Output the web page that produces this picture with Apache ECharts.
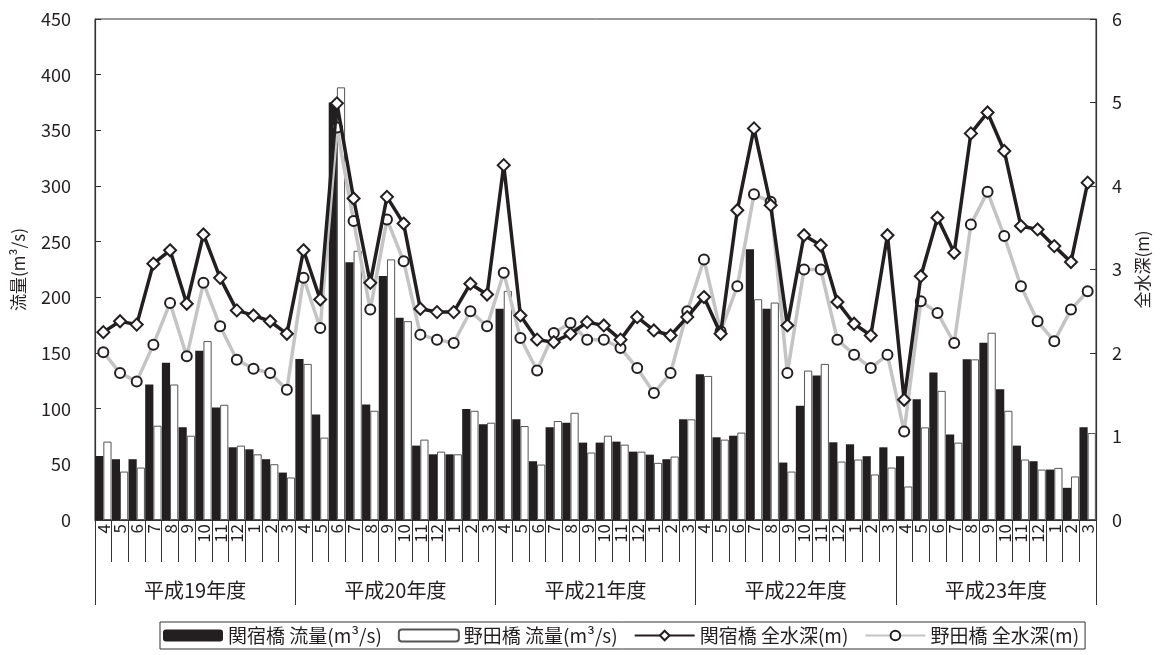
<!DOCTYPE html>
<html>
<head>
<meta charset="utf-8">
<title>関宿橋・野田橋 流量と全水深</title>
<script src="https://cdn.jsdelivr.net/npm/echarts@6/dist/echarts.min.js"></script>
<style>
  html, body { margin: 0; padding: 0; background: #fff; }
  #chart { width: 1160px; height: 655px; }
</style>
</head>
<body>
<div id="chart"></div>
<script>
// Fiscal-year months (April to March) for 平成19〜23年度
const months = ['4','5','6','7','8','9','10','11','12','1','2','3'];
const fiscalYears = ['平成19年度', '平成20年度', '平成21年度', '平成22年度', '平成23年度'];
const categories = fiscalYears.flatMap(fy => months.map(m => fy + '-' + m));

// 関宿橋 流量 (m³/s)
const sekiyadoFlow = [
  57.5, 54.6, 54.6, 121.7, 141.3, 83.2, 152.0, 101.0, 65.3, 63.5, 54.6, 42.6,
  144.6, 94.8, 375.1, 231.4, 103.8, 219.2, 181.6, 66.8, 59.0, 59.0, 99.6, 85.9,
  189.7, 90.4, 52.8, 83.2, 87.4, 69.5, 69.5, 70.4, 61.4, 58.7, 54.6, 90.4,
  130.9, 74.3, 75.7, 243.3, 189.7, 51.6, 102.6, 129.7, 69.8, 68.0, 57.3, 65.3,
  57.3, 108.5, 132.4, 76.9, 144.3, 159.2, 117.5, 66.8, 52.8, 45.3, 28.9, 83.2
];

// 野田橋 流量 (m³/s)
const nodaFlow = [
  70.4, 43.5, 47.1, 84.7, 121.7, 75.7, 160.7, 103.5, 66.8, 59.0, 50.1, 38.2,
  140.2, 74.0, 388.6, 241.8, 98.1, 234.1, 178.6, 72.2, 61.4, 59.0, 98.1, 87.4,
  205.8, 84.4, 49.8, 88.9, 96.3, 60.6, 75.7, 67.7, 61.4, 51.3, 57.0, 90.4,
  129.4, 72.2, 78.5, 198.3, 195.3, 43.5, 134.2, 140.2, 52.5, 54.3, 40.9, 47.1,
  30.1, 83.2, 116.0, 69.5, 144.3, 168.2, 98.1, 54.3, 45.3, 46.8, 39.1, 78.1
];

// 関宿橋 全水深 (m)
const sekiyadoDepth = [
  2.25, 2.38, 2.34, 3.07, 3.23, 2.59, 3.42, 2.90, 2.51, 2.45, 2.38, 2.23,
  3.23, 2.64, 4.99, 3.85, 2.84, 3.87, 3.55, 2.53, 2.49, 2.49, 2.83, 2.70,
  4.25, 2.45, 2.16, 2.13, 2.23, 2.37, 2.33, 2.16, 2.43, 2.27, 2.21, 2.43,
  2.67, 2.23, 3.71, 4.69, 3.77, 2.33, 3.41, 3.29, 2.61, 2.35, 2.21, 3.41,
  1.44, 2.92, 3.62, 3.20, 4.63, 4.88, 4.42, 3.52, 3.48, 3.28, 3.09, 4.04
];

// 野田橋 全水深 (m)
const nodaDepth = [
  2.01, 1.76, 1.66, 2.10, 2.60, 1.96, 2.84, 2.32, 1.92, 1.81, 1.76, 1.56,
  2.90, 2.30, 4.70, 3.58, 2.52, 3.60, 3.10, 2.22, 2.16, 2.12, 2.50, 2.32,
  2.96, 2.18, 1.79, 2.24, 2.36, 2.16, 2.16, 2.06, 1.82, 1.52, 1.76, 2.50,
  3.12, 2.26, 2.80, 3.90, 3.81, 1.76, 3.00, 3.00, 2.16, 1.98, 1.82, 1.98,
  1.06, 2.62, 2.48, 2.12, 3.54, 3.93, 3.40, 2.80, 2.38, 2.14, 2.52, 2.74
];

const flowTicks = { min: 0, max: 450, interval: 50 };
const depthTicks = { min: 0, max: 6, interval: 1 };

const FONT = '"Noto Sans CJK JP", "Liberation Sans", sans-serif';
const INK = '#231f20';
const AXIS = '#333';

const chart = echarts.init(document.getElementById('chart'), null, { renderer: 'canvas' });

chart.setOption({
  animation: false,
  backgroundColor: '#fff',
  textStyle: { fontFamily: FONT, color: INK },
  grid: {
    left: 95, right: 64, top: 19, bottom: 135,
    show: true, borderColor: AXIS, borderWidth: 1
  },
  legend: {
    left: 160, top: 622,
    itemWidth: 60, itemHeight: 12, itemGap: 16,
    padding: [4, 6, 4, 3],
    borderColor: AXIS, borderWidth: 1,
    textStyle: { fontFamily: FONT, fontSize: 19, color: INK },
    data: ['関宿橋 流量(m³/s)', '野田橋 流量(m³/s)', '関宿橋 全水深(m)', '野田橋 全水深(m)']
  },
  xAxis: [
    {
      type: 'category',
      data: categories,
      position: 'bottom',
      boundaryGap: true,
      axisLine: { show: true, lineStyle: { color: AXIS, width: 1.2 } },
      axisTick: { show: true, interval: 0, length: 42, lineStyle: { color: AXIS, width: 1 } },
      axisLabel: {
        interval: 0, rotate: 90, margin: 4,
        fontFamily: FONT, fontSize: 17, color: INK,
        formatter: v => v.split('-')[1]
      }
    },
    {
      type: 'category',
      data: fiscalYears,
      position: 'bottom',
      boundaryGap: true,
      axisLine: { show: false },
      axisTick: { show: true, interval: 0, length: 85, lineStyle: { color: AXIS, width: 1 } },
      axisLabel: { interval: 0, margin: 60, fontFamily: FONT, fontSize: 20, color: INK }
    }
  ],
  yAxis: [
    {
      type: 'value',
      position: 'left',
      ...flowTicks,
      name: '流量(m³/s)',
      nameLocation: 'middle',
      nameRotate: 90,
      nameGap: 68,
      nameTextStyle: { fontFamily: FONT, fontSize: 17, color: INK },
      axisLine: { show: true, lineStyle: { color: AXIS, width: 1.2 } },
      axisTick: { show: true, inside: true, length: 6, lineStyle: { color: AXIS } },
      axisLabel: { margin: 24, fontFamily: FONT, fontSize: 18, color: INK },
      splitLine: { show: false }
    },
    {
      type: 'value',
      position: 'right',
      ...depthTicks,
      name: '全水深(m)',
      nameLocation: 'middle',
      nameRotate: 90,
      nameGap: 38,
      nameTextStyle: { fontFamily: FONT, fontSize: 17, color: INK },
      axisLine: { show: true, lineStyle: { color: AXIS, width: 1.2 } },
      axisTick: { show: true, inside: true, length: 6, lineStyle: { color: AXIS } },
      axisLabel: { margin: 16, fontFamily: FONT, fontSize: 18, color: INK },
      splitLine: { show: false }
    }
  ],
  series: [
    {
      name: '関宿橋 流量(m³/s)',
      type: 'bar',
      xAxisIndex: 0, yAxisIndex: 0,
      data: sekiyadoFlow,
      barWidth: 8.2,
      barGap: '0%',
      itemStyle: { color: INK }
    },
    {
      name: '野田橋 流量(m³/s)',
      type: 'bar',
      xAxisIndex: 0, yAxisIndex: 0,
      data: nodaFlow,
      barWidth: 8.2,
      barGap: '0%',
      itemStyle: { color: '#fff', borderColor: '#555', borderWidth: 1 }
    },
    {
      name: '関宿橋 全水深(m)',
      type: 'line',
      xAxisIndex: 0, yAxisIndex: 1,
      data: sekiyadoDepth,
      symbol: 'diamond',
      symbolSize: 12,
      z: 4,
      lineStyle: { color: INK, width: 3.5 },
      itemStyle: { color: '#fff', borderColor: INK, borderWidth: 2 }
    },
    {
      name: '野田橋 全水深(m)',
      type: 'line',
      xAxisIndex: 0, yAxisIndex: 1,
      data: nodaDepth,
      symbol: 'circle',
      symbolSize: 10,
      z: 3,
      lineStyle: { color: '#c4c4c4', width: 3.5 },
      itemStyle: { color: '#fff', borderColor: INK, borderWidth: 2 }
    }
  ]
});
</script>
</body>
</html>
